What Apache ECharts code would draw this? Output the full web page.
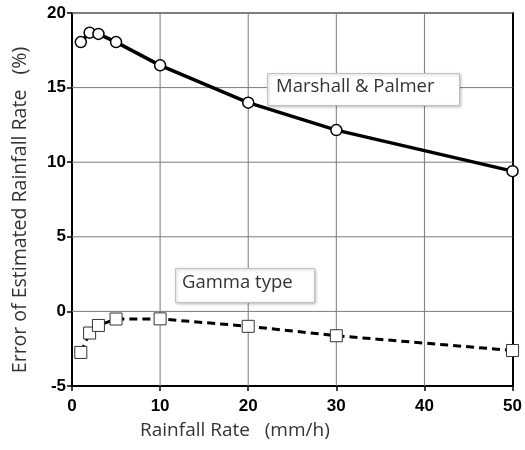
<!DOCTYPE html>
<html>
<head>
<meta charset="utf-8">
<script src="https://cdn.jsdelivr.net/npm/echarts@6/dist/echarts.min.js"></script>
<style>
html,body{margin:0;padding:0;background:#fff;}
#c{width:525px;height:450px;}
</style>
</head>
<body>
<div id="c"></div>
<script>
var rainRate = [1, 2, 3, 5, 10, 20, 30, 50];
var marshallPalmer = [18.05, 18.68, 18.6, 18.05, 16.49, 13.99, 12.15, 9.4];
var gammaType = [-2.75, -1.45, -0.94, -0.51, -0.5, -1.0, -1.63, -2.62];
var xTicks = [0, 10, 20, 30, 40, 50];
var yTicks = [-5, 0, 5, 10, 15, 20];

var xMin = xTicks[0], xMax = xTicks[xTicks.length - 1];
var yMin = yTicks[0], yMax = yTicks[yTicks.length - 1];

var chart = echarts.init(document.getElementById('c'));
var tickFont = {fontFamily: 'Liberation Sans, Arial, sans-serif', fontWeight: 'bold', fontSize: 17, color: '#000'};

// gridline helper series (reference lines, drawn through the axes' scales)
var gridSeries = [];
xTicks.slice(1, -1).forEach(function (v) {
  gridSeries.push({type: 'line', silent: true, symbol: 'none', z: 1,
    data: [[v, yMin], [v, yMax]], lineStyle: {color: '#7a7a7a', width: 1}});
});
yTicks.slice(1, -1).forEach(function (v) {
  gridSeries.push({type: 'line', silent: true, symbol: 'none', z: 1,
    data: [[xMin, v], [xMax, v]], lineStyle: {color: '#7a7a7a', width: 1}});
});

var option = {
  animation: false,
  grid: {left: 72, right: 12, top: 13, bottom: 64},
  xAxis: [{
    type: 'value', min: xMin, max: xMax, interval: 10,
    axisLine: {show: true, onZero: false, lineStyle: {color: '#000', width: 2}},
    axisTick: {show: true, inside: false, length: 5, lineStyle: {color: '#000', width: 1.5}},
    axisLabel: Object.assign({margin: 12}, tickFont),
    splitLine: {show: false}
  }, {
    type: 'value', position: 'top', min: xMin, max: xMax, interval: 10,
    axisLine: {show: true, onZero: false, lineStyle: {color: '#555', width: 1.5}},
    axisTick: {show: false}, axisLabel: {show: false}, splitLine: {show: false}
  }],
  yAxis: [{
    type: 'value', min: yMin, max: yMax, interval: 5,
    axisLine: {show: true, onZero: false, lineStyle: {color: '#000', width: 2}},
    axisTick: {show: true, inside: false, length: 5, lineStyle: {color: '#000', width: 1.5}},
    axisLabel: Object.assign({margin: 6}, tickFont),
    splitLine: {show: false}
  }, {
    type: 'value', position: 'right', min: yMin, max: yMax, interval: 5,
    axisLine: {show: true, onZero: false, lineStyle: {color: '#000', width: 2}},
    axisTick: {show: false}, axisLabel: {show: false}, splitLine: {show: false}
  }],
  series: gridSeries.concat([
    {
      name: 'Marshall & Palmer', type: 'line',
      data: rainRate.map(function (x, i) { return [x, marshallPalmer[i]]; }),
      symbol: 'circle', symbolSize: 11,
      lineStyle: {color: '#000', width: 3.5},
      itemStyle: {color: '#fff', borderColor: '#000', borderWidth: 1.5},
      z: 3
    },
    {
      name: 'Gamma type', type: 'line',
      data: rainRate.map(function (x, i) { return [x, gammaType[i]]; }),
      symbol: 'rect', symbolSize: 12,
      lineStyle: {color: '#000', width: 3, type: [8, 5]},
      itemStyle: {color: '#fff', borderColor: '#333', borderWidth: 1},
      z: 3
    }
  ]),
  graphic: [
    {type: 'rect', left: 267, top: 73, shape: {width: 192, height: 32},
     style: {fill: '#fff', stroke: '#b8c4cc', lineWidth: 1, shadowBlur: 3, shadowOffsetX: 1, shadowOffsetY: 1, shadowColor: 'rgba(0,0,0,0.25)'}, z: 10},
    {type: 'text', left: 276, top: 77, style: {text: 'Marshall & Palmer', font: '18.5px "Open Sans", sans-serif', fill: '#333'}, z: 11},
    {type: 'rect', left: 175, top: 268, shape: {width: 139, height: 34},
     style: {fill: '#fff', stroke: '#b8c4cc', lineWidth: 1, shadowBlur: 3, shadowOffsetX: 1, shadowOffsetY: 1, shadowColor: 'rgba(0,0,0,0.25)'}, z: 10},
    {type: 'text', left: 182, top: 273, style: {text: 'Gamma type', font: '18.5px "Open Sans", sans-serif', fill: '#333'}, z: 11},
    {type: 'text', left: 140, top: 421, style: {text: 'Rainfall Rate   (mm/h)', font: '19px "Open Sans", sans-serif', fill: '#333'}},
    {type: 'text', x: 20, y: 210, rotation: Math.PI / 2, style: {text: 'Error of Estimated Rainfall Rate   (%)', font: '19.5px "Open Sans", sans-serif', fill: '#333', align: 'center', verticalAlign: 'middle'}}
  ]
};
chart.setOption(option);
</script>
</body>
</html>
